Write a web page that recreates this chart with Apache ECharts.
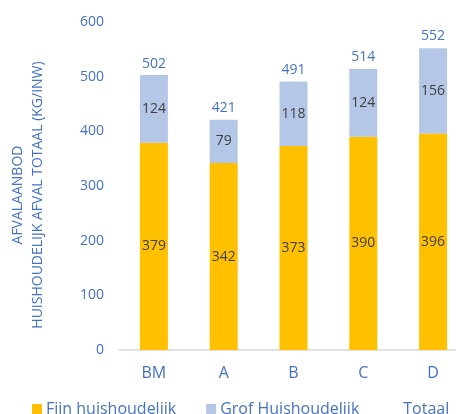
<!DOCTYPE html>
<html><head><meta charset="utf-8">
<script src="https://cdn.jsdelivr.net/npm/echarts@6/dist/echarts.min.js"></script>
<style>html,body{margin:0;padding:0;background:#fff;overflow:hidden}#c{width:472px;height:414px}</style>
</head><body><div id="c"></div>
<script>
const categories = ['BM','A','B','C','D'];
const fijn = [379,342,373,390,396];
const grof = [124,79,118,124,156];
const totaal = [502,421,491,514,552];
const yTicks = [0,100,200,300,400,500,600];

const blue = '#4472C4';
const font = 'Open Sans';
const chart = echarts.init(document.getElementById('c'));
chart.setOption({
  animation:false,
  textStyle:{fontFamily:font},
  grid:{left:118,width:350,top:22,height:328},
  legend:{
    left:27, top:396, itemWidth:10, itemHeight:10, itemGap:30,
    textStyle:{color:blue,fontSize:16,fontFamily:font,padding:[0,0,0,-1]},
    data:[
      {name:'Fijn huishoudelijk',icon:'rect'},
      {name:'Grof Huishoudelijk',icon:'rect'},
      {name:'Totaal',icon:'rect',itemStyle:{opacity:0}}
    ]
  },
  xAxis:{
    type:'category', data:categories,
    axisLine:{lineStyle:{color:'#D9D9D9',width:1.5}},
    axisTick:{show:false},
    axisLabel:{color:blue,fontSize:16,margin:15,fontFamily:font}
  },
  yAxis:{
    type:'value', min:yTicks[0], max:yTicks[yTicks.length-1], interval:100,
    name:'AFVALAANBOD\nHUISHOUDELIJK AFVAL TOTAAL (KG/INW)',
    nameLocation:'middle', nameRotate:90, nameGap:71,
    nameTextStyle:{color:blue,fontSize:14,lineHeight:20,fontFamily:font,padding:[0,0,0,-18]},
    axisLine:{show:false}, axisTick:{show:false}, splitLine:{show:false},
    axisLabel:{color:blue,fontSize:14,margin:15,fontFamily:font}
  },
  series:[
    {name:'Fijn huishoudelijk',type:'bar',stack:'a',data:fijn,barWidth:28,
     itemStyle:{color:'#FFC000'},
     label:{show:true,position:'inside',color:'#404040',fontSize:14,fontFamily:font}},
    {name:'Grof Huishoudelijk',type:'bar',stack:'a',data:grof,barWidth:28,
     itemStyle:{color:'#B4C7E7'},
     label:{show:true,position:'inside',color:'#404040',fontSize:14,fontFamily:font}},
    {name:'Totaal',type:'line',data:totaal,symbol:'circle',symbolSize:0,
     lineStyle:{opacity:0},itemStyle:{color:'rgba(0,0,0,0)'},
     label:{show:true,position:'top',distance:5,color:blue,fontSize:14,fontFamily:font}}
  ]
});
</script></body></html>
